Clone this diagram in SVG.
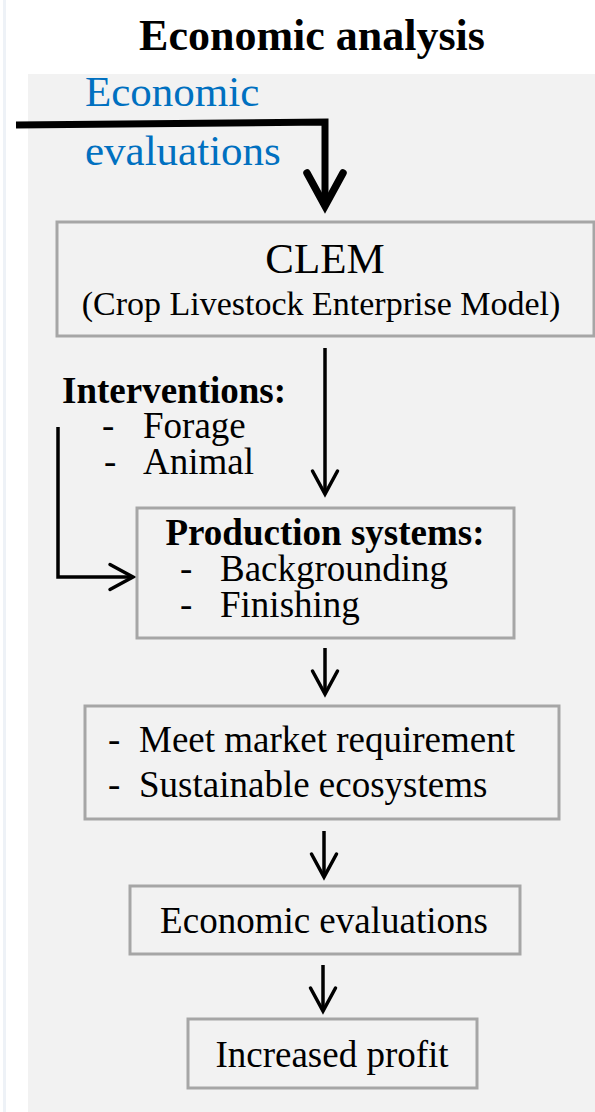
<svg xmlns="http://www.w3.org/2000/svg" width="595" height="1112" viewBox="0 0 595 1112">
<style>
.bg{fill:#f2f2f2}
.box{fill:#f2f2f2;stroke:#a6a6a6;stroke-width:3}
.t{font-family:"Liberation Serif","Times New Roman",serif;fill:#000;font-size:37px}
.b{font-weight:bold}
.blue{fill:#0070c0;font-size:43px}
.c{stroke:#000;fill:none;stroke-width:3.5;marker-end:url(#arr)}
</style>
<defs>
<marker id="arr" markerUnits="userSpaceOnUse" markerWidth="40" markerHeight="40" viewBox="-30 -20 40 40" refX="0" refY="0" orient="auto" overflow="visible">
<path d="M-23,-12.5 L0,0 L-23,12.5" fill="none" stroke="#000" stroke-width="3.5" stroke-linecap="round" stroke-linejoin="miter"/>
</marker>
<marker id="arrThick" markerUnits="userSpaceOnUse" markerWidth="60" markerHeight="60" viewBox="-45 -30 60 60" refX="0" refY="0" orient="auto" overflow="visible">
<path d="M-33,-18 L0,0 L-33,18" fill="none" stroke="#000" stroke-width="7.5" stroke-linecap="round" stroke-linejoin="miter"/>
</marker>
</defs>
<rect x="0" y="0" width="595" height="1112" fill="#ffffff"/>
<rect x="3" y="0" width="3" height="1112" fill="#eef2f7"/>
<rect class="bg" x="28" y="74" width="567" height="1038"/>
<g id="title">
<text class="t b" x="312" y="50" text-anchor="middle" style="font-size:44px">Economic analysis</text>
</g>
<g id="label-economic-evaluations">
<text class="t blue" x="85" y="106">Economic</text>
<text class="t blue" x="85" y="165">evaluations</text>
</g>
<g id="connectors">
<path d="M16,125 L325,122 L325,206" fill="none" stroke="#000" stroke-width="7" marker-end="url(#arrThick)"/>
<path class="c" d="M325,348 L325,494"/>
<path class="c" d="M58,427 L58,577 L133,577"/>
<path class="c" d="M325,648 L325,694"/>
<path class="c" d="M324,831 L324,877"/>
<path class="c" d="M323,965 L323,1011"/>
</g>
<g id="clem">
<rect class="box" x="57" y="222" width="537" height="114"/>
<text class="t" x="325" y="273" text-anchor="middle" style="font-size:43px">CLEM</text>
<text class="t" x="321" y="315" text-anchor="middle" style="font-size:34px">(Crop Livestock Enterprise Model)</text>
</g>
<g id="interventions">
<text class="t b" x="62" y="403">Interventions:</text>
<text class="t" x="102" y="438">-</text>
<text class="t" x="143" y="438">Forage</text>
<text class="t" x="104" y="474">-</text>
<text class="t" x="143" y="474">Animal</text>
</g>
<g id="production-systems">
<rect class="box" x="137" y="508" width="377" height="130"/>
<text class="t b" x="325" y="545" text-anchor="middle">Production systems:</text>
<text class="t" x="180" y="581">-</text>
<text class="t" x="220" y="581">Backgrounding</text>
<text class="t" x="180" y="617">-</text>
<text class="t" x="220" y="617">Finishing</text>
</g>
<g id="outcomes">
<rect class="box" x="85" y="706" width="474" height="113"/>
<text class="t" x="108" y="752">-</text>
<text class="t" x="139" y="752">Meet market requirement</text>
<text class="t" x="108" y="797">-</text>
<text class="t" x="139" y="797">Sustainable ecosystems</text>
</g>
<g id="economic-evaluations">
<rect class="box" x="130" y="886" width="390" height="68"/>
<text class="t" x="324" y="933" text-anchor="middle">Economic evaluations</text>
</g>
<g id="increased-profit">
<rect class="box" x="188" y="1019" width="289" height="69"/>
<text class="t" x="332" y="1067" text-anchor="middle">Increased profit</text>
</g>
</svg>
